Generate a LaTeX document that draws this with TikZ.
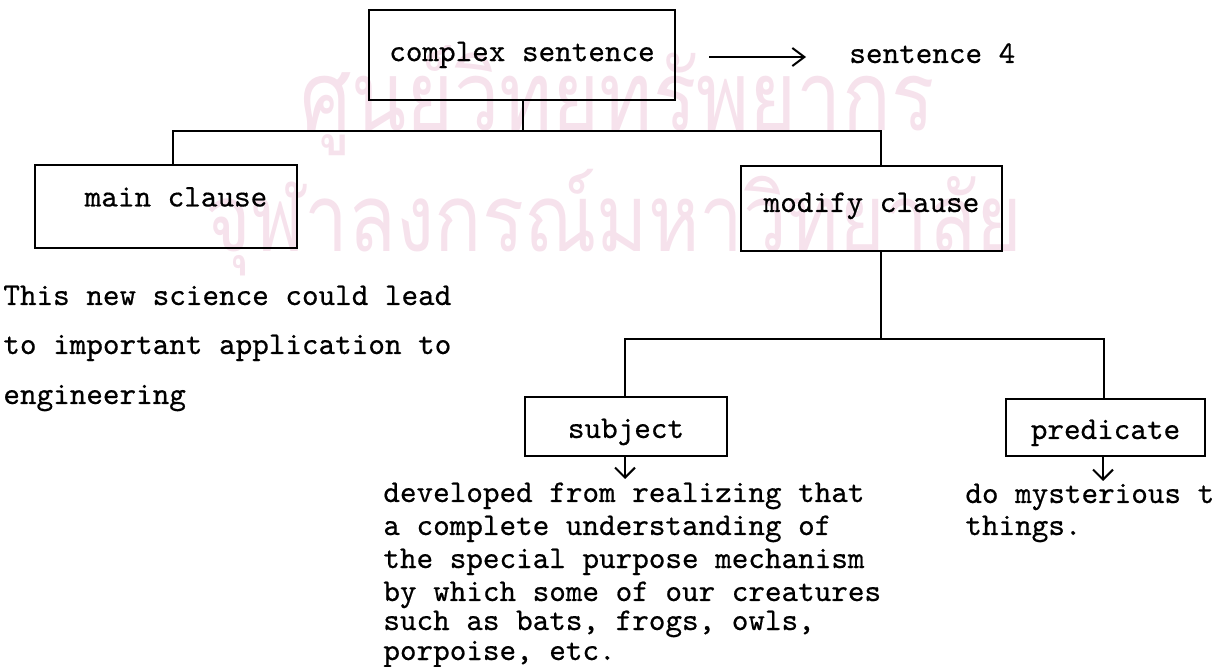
\documentclass[tikz,border=0pt]{standalone}
\usepackage{fontspec}
\usepackage{graphicx}
\newfontfamily\thaifont[Script=Thai]{Loma}
\newfontfamily\tw{lmmono10-regular.otf}[FakeBold=0.5]
\usetikzlibrary{arrows.meta,calc}
\definecolor{wmpink}{RGB}{246,226,236}
\begin{document}
\begin{tikzpicture}[x=0.5pt,y=-0.5pt,
  box/.style={draw, line width=1pt, inner sep=0pt, font=\tw\fontsize{15.8}{19}\selectfont},
  txt/.style={inner sep=0pt, anchor=base west, font=\tw\fontsize{15.8}{19}\selectfont},
  conn/.style={line width=1pt},
  arr/.style={line width=1pt, -{Straight Barb[length=5pt,width=10pt,line width=1pt]}},
  arrh/.style={line width=1pt, -{Straight Barb[length=6pt,width=9pt,line width=1pt]}},
  wm/.style={inner sep=0pt, anchor=base west, text=wmpink, font=\thaifont\fontsize{60}{60}\selectfont}]
\useasboundingbox (0,0) rectangle (1231,667);
% watermark
\node[wm] (wm1) at (300,131) {\scalebox{1}[1.2]{\resizebox{317pt}{!}{ศูนย์วิทยทรัพยากร}}};
\node[wm] (wm2) at (205,252) {\scalebox{1}[1.2]{\resizebox{408.5pt}{!}{จุฬาลงกรณ์มหาวิทยาลัย}}};
% boxes
\node[box, minimum width=153pt, minimum height=45pt, text height=9.6pt, text depth=3.5pt] (cs) at (522,55) {complex sentence};
\node[txt] (s4) at (849,63) {sentence 4};
\node[box, minimum width=131pt, minimum height=41.5pt, text height=5pt, text depth=5pt] (mc) at (166,206.5) {\hspace*{10pt}main clause};
\node[box, minimum width=130.5pt, minimum height=42.5pt, text height=7pt, text depth=3.5pt] (mod) at (871.5,208.5) {modify clause};
\node[box, minimum width=101pt, minimum height=29.5pt, text height=12pt, text depth=0.5pt] (sub) at (626,426.5) {subject};
\node[box, minimum width=99.5pt, minimum height=28.5pt, text height=12pt, text depth=0.5pt] (pred) at (1105.5,427.5) {predicate};
% texts
\node[txt] (m1) at (3,305) {This new science could lead};
\node[txt] (m2) at (3,354) {to important application to};
\node[txt] (m3) at (3,404) {engineering};
\node[txt] (t1) at (383,502) {developed from realizing that};
\node[txt] (t2) at (383,535) {a complete understanding of};
\node[txt] (t3) at (383,568) {the special purpose mechanism};
\node[txt] (t4) at (383,601) {by which some of our creatures};
\node[txt] (t5) at (383,630) {such as bats, frogs, owls,};
\node[txt] (t6) at (383,660) {porpoise, etc.};
\node[txt] (p1) at (965,503) {do mysterious t};
\node[txt] (p2) at (965,535) {things.};
% connectors
\coordinate (j0) at (523,131);
\coordinate (jl) at (173,131);
\coordinate (jr) at (881,131);
\draw[conn] (cs.south -| j0) -- (j0);
\draw[conn] (mc.north -| jl) -- (jl) -- (jr) -- (mod.north -| jr);
\coordinate (kl) at (625,339.5);
\coordinate (kr) at (1104,339.5);
\draw[conn] (mod.south -| jr) -- (jr |- kl);
\draw[conn] (sub.north -| kl) -- (kl) -- (kr) -- (pred.north -| kr);
% arrows
\coordinate (hend) at (806,57);
\draw[arrh] ($(cs.east)+(16.5pt,-1pt)$) -- (hend);
\coordinate (ad) at (625,479);
\draw[arr] (sub.south -| ad) -- (ad);
\coordinate (pd) at (1103,481);
\draw[arr] (pred.south -| pd) -- (pd);
\end{tikzpicture}
\end{document}
